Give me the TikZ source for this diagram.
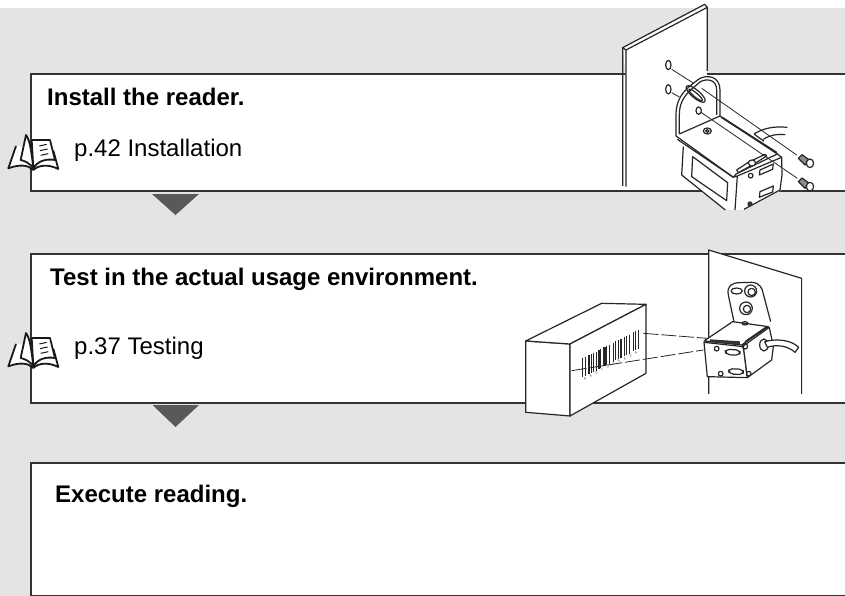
\documentclass[tikz,border=0pt]{standalone}
\usepackage{fontspec}
\setmainfont{Liberation Sans}
\usetikzlibrary{shapes.geometric}
\definecolor{panel}{HTML}{E4E4E4}
\definecolor{edge}{HTML}{333333}
\definecolor{mark}{HTML}{58595B}
\tikzset{
  stepbox/.style={draw=edge,line width=2pt,fill=white,minimum width=840pt,anchor=north west,inner sep=0pt},
  title/.style={anchor=base west,inner sep=0pt,font=\fontsize{24}{28}\selectfont\bfseries},
  pageref/.style={anchor=base west,inner sep=0pt,font=\fontsize{24}{28}\selectfont},
  downmark/.style={fill=mark},
  ink/.style={line width=1.2pt,draw=black!85,line join=round},
  thin ink/.style={line width=0.8pt,draw=black!85},
  zoomed/.style={x=0.3333pt,y=-0.3333pt},
  pics/bookicon/.style={code={
    \begin{scope}[zoomed,line width=1.8pt,line join=round,draw=black!90]
      \draw[fill=white] (48,258) -- (25,325) .. controls (60,312) and (85,315) .. (100,330)
        .. controls (115,315) and (145,312) .. (175,327) -- (160,272);
      \draw[fill=white] (95,240) -- (150,240) -- (165,300) .. controls (135,295) and (112,305) .. (100,325) -- (95,240);
      \draw[fill=white] (78,225) .. controls (90,240) and (95,280) .. (100,325)
        .. controls (90,310) and (75,303) .. (62,300) -- cycle;
      \draw[line width=1pt] (118,258) -- (140,253) (120,272) -- (143,267) (122,286) -- (145,281);
    \end{scope}
  }}
}
\begin{document}
\begin{tikzpicture}[x=1pt,y=-1pt]
  \useasboundingbox (0,0) rectangle (845,596);
  \clip (0,0) rectangle (845,596);
  \fill[panel] (0,8) rectangle (845,596);
  %
  \node[stepbox,minimum height=117pt] (install) at (30,73) {};
  \node[stepbox,minimum height=149pt] (test) at (30,253) {};
  \node[stepbox,minimum height=133pt] (execute) at (30,462) {};
  %
  \fill[downmark] (152,194) -- (199,194) -- (175.5,215) -- cycle;
  \fill[downmark] (152.5,405) -- (199,405) -- (175.5,427) -- cycle;
  %
  \node[title] (installtitle) at (47,105.7) {Install the reader.};
  \node[pageref] (installref) at (74,156.7) {p.42 Installation};
  \node[title] (testtitle) at (50,285.7) {Test in the actual usage environment.};
  \node[pageref] (testref) at (74,354) {p.37 Testing};
  \node[title] (executetitle) at (55,502) {Execute reading.};
  %
  \pic at (0,60) {bookicon};
  \pic at (0,258) {bookicon};
  %
  % wall and reader of the first step
  \begin{scope}[shift={(600,0)},zoomed]
    \fill[white] (68,143) -- (320,14) -- (321,234) -- (78,234) -- cycle;
    \draw[ink] (78,560) -- (78,150) -- (322,22) -- (322,213);
    \draw[ink] (68,558) -- (68,143) -- (314,13) -- (322,22);
    \draw[ink] (68,143) -- (78,150);
    \draw[ink] (205,195) ellipse (8 and 14);
    \draw[ink] (205,268) ellipse (8 and 14);
    \draw[thin ink] (215,208) -- (278,248);
    \draw[thin ink] (215,278) -- (238,291);
    % body below the bent plate
    \fill[white] (248,440) -- (245,525) -- (378,630) -- (430,630) -- (542,572) -- (548,490) -- (400,400) -- cycle;
    \draw[ink] (250,440) -- (245,525) -- (376,630);
    \draw[ink] (278,470) -- (275,530) -- (380,602) -- (383,548) -- cycle;
    \draw[ink] (412,528) -- (405,630);
    \draw[ink] (545,472) -- (546,525) -- (540,570) -- (432,628);
    \draw[ink] (478,525) -- (480,510) -- (520,492) -- (518,508) -- cycle;
    \draw[ink] (478,592) -- (480,575) -- (520,558) -- (518,576) -- cycle;
    \draw[ink] (452,527) circle (7);
    \fill[black!80] (450,612) circle (8);
    % cable
    \draw[ink] (462,402) .. controls (490,385) and (520,378) .. (562,382);
    \draw[ink] (490,418) .. controls (510,405) and (530,402) .. (556,404);
    \draw[ink] (462,402) -- (492,424);
    % bent plate
    \draw[ink,fill=white] (228,408) -- (228,345) .. controls (228,310) and (240,285) .. (265,262)
      -- (295,238) .. controls (320,222) and (360,228) .. (360,270) -- (360,348)
      -- (532,462) -- (408,522) -- (400,532) -- cycle;
    \draw[ink] (238,402) -- (238,345) .. controls (238,315) and (248,292) .. (272,270)
      -- (300,246) .. controls (320,234) and (350,238) .. (350,270) -- (350,345);
    \draw[ink] (238,402) -- (360,348);
    \draw[ink] (232,418) -- (400,532);
    \draw[ink] (532,462) -- (545,472) -- (412,528) -- (400,532);
    \draw[line width=1.8pt,black!85] (365,352) -- (530,458);
    \draw[ink,rotate around={-40:(287,282)}] (287,282) ellipse (36 and 12);
    \draw[ink,rotate around={-40:(287,285)}] (287,285) ellipse (26 and 6);
    \draw[ink] (296,332) ellipse (8 and 11);
    \draw[ink,fill=white] (322,393) ellipse (12 and 9);
    \draw[ink] (322,393) ellipse (5 and 4);
    % tab
    \draw[ink,fill=white] (410,510) -- (445,487) -- (495,463) -- (500,468) -- (462,492) -- (415,518) -- cycle;
    \draw[ink,fill=white] (456,489) ellipse (11 and 9);
    % axis lines and screws
    \draw[thin ink] (305,265) -- (590,465);
    \draw[thin ink] (303,337) -- (592,535);
    \draw[ink,fill=black!45] (595,475) -- (606,464) -- (628,480) -- (615,495) -- cycle;
    \draw[ink,fill=white] (630,490) ellipse (11 and 13);
    \draw[ink,fill=black!45] (595,545) -- (606,534) -- (628,550) -- (615,565) -- cycle;
    \draw[ink,fill=white] (630,560) ellipse (11 and 13);
  \end{scope}
  %
  % wall, carton and reader of the second step
  \begin{scope}[shift={(510,210)},zoomed]
    \fill[white] (596,120) -- (875,205) -- (875,552) -- (596,552) -- cycle;
    \draw[ink] (596,552) -- (596,120) -- (875,205) -- (875,552);
    \draw[ink,fill=white] (47,393) -- (180,402) -- (180,618) -- (47,607) -- cycle;
    \draw[ink,fill=white] (47,393) -- (275,280) -- (408,283) -- (180,402) -- cycle;
    \draw[ink,fill=white] (180,402) -- (408,283) -- (408,490) -- (180,618) -- cycle;
    \foreach \barpos/\barwidth in {218/1.6,226/1.2,236/2,244/0.9,251/1.5,258/1,266/1.8,
      272/0.8,284/2.4,291/1,298/1.4,311/1.6,318/1,326/1.4,334/2,343/0.9,349/1.4,
      358/1.2,370/1.5,378/1,385/1.2}
      \draw[line width=\barwidth pt,black!85] (\barpos,{445-(\barpos-218)*0.51})
        -- (\barpos,{502-(\barpos-218)*0.51});
    \foreach \digit [count=\digitno] in {A,8,0,7,0,1,5,4,3,A}
      \node[inner sep=0pt,rotate=27,text=black!70,font=\fontsize{3.6}{4}\selectfont]
        (digit\digitno) at ({208+\digitno*17},{516-\digitno*8.8}) {\digit};
    \draw[thin ink,dash pattern=on 15pt off 3pt] (400,370) -- (592,385);
    \draw[thin ink,dash pattern=on 15pt off 3pt] (185,482) -- (580,420);
    % plate, top, faces
    \draw[ink,fill=white] (672,335) -- (655,255) .. controls (650,228) and (665,218) .. (690,218)
      -- (725,217) .. controls (750,218) and (757,235) .. (760,252) -- (782,335);
    \draw[ink] (680,243) ellipse (17 and 9);
    \draw[ink] (722,243) circle (18);
    \draw[ink] (725,246) circle (11);
    \draw[ink] (708,295) circle (19);
    \draw[ink] (711,297) circle (11);
    \draw[ink,fill=white] (582,393) -- (668,335) -- (775,350) -- (695,405) -- cycle;
    \draw[ink,fill=white] (582,397) -- (700,410) -- (712,503) -- (592,500) -- cycle;
    \draw[ink,fill=white] (700,408) -- (778,352) -- (790,410) -- (785,450) -- (712,503) -- cycle;
    \draw[ink] (705,395) -- (770,350);
    \fill[black!80] (600,388) -- (690,394) -- (690,403) -- (600,397) -- cycle;
    \draw[ink] (705,340) ellipse (9 and 5);
    \draw[ink,rounded corners=4pt] (645,418) -- (690,420) -- (690,436) -- (648,434) -- cycle;
    \draw[ink,rounded corners=4pt] (655,476) -- (700,478) -- (700,494) -- (658,492) -- cycle;
    \draw[ink] (620,416) circle (7);
    \draw[ink] (632,491) circle (7);
    \draw[ink] (705,409) circle (8);
    \draw[ink] (716,491) circle (7);
    \draw[ink,fill=white] (762,405) ellipse (13 and 18);
    \draw[ink,fill=white] (764,395) .. controls (800,385) and (845,390) .. (866,412)
      -- (855,427) .. controls (835,408) and (800,402) .. (772,412) -- cycle;
  \end{scope}
\end{tikzpicture}
\end{document}
